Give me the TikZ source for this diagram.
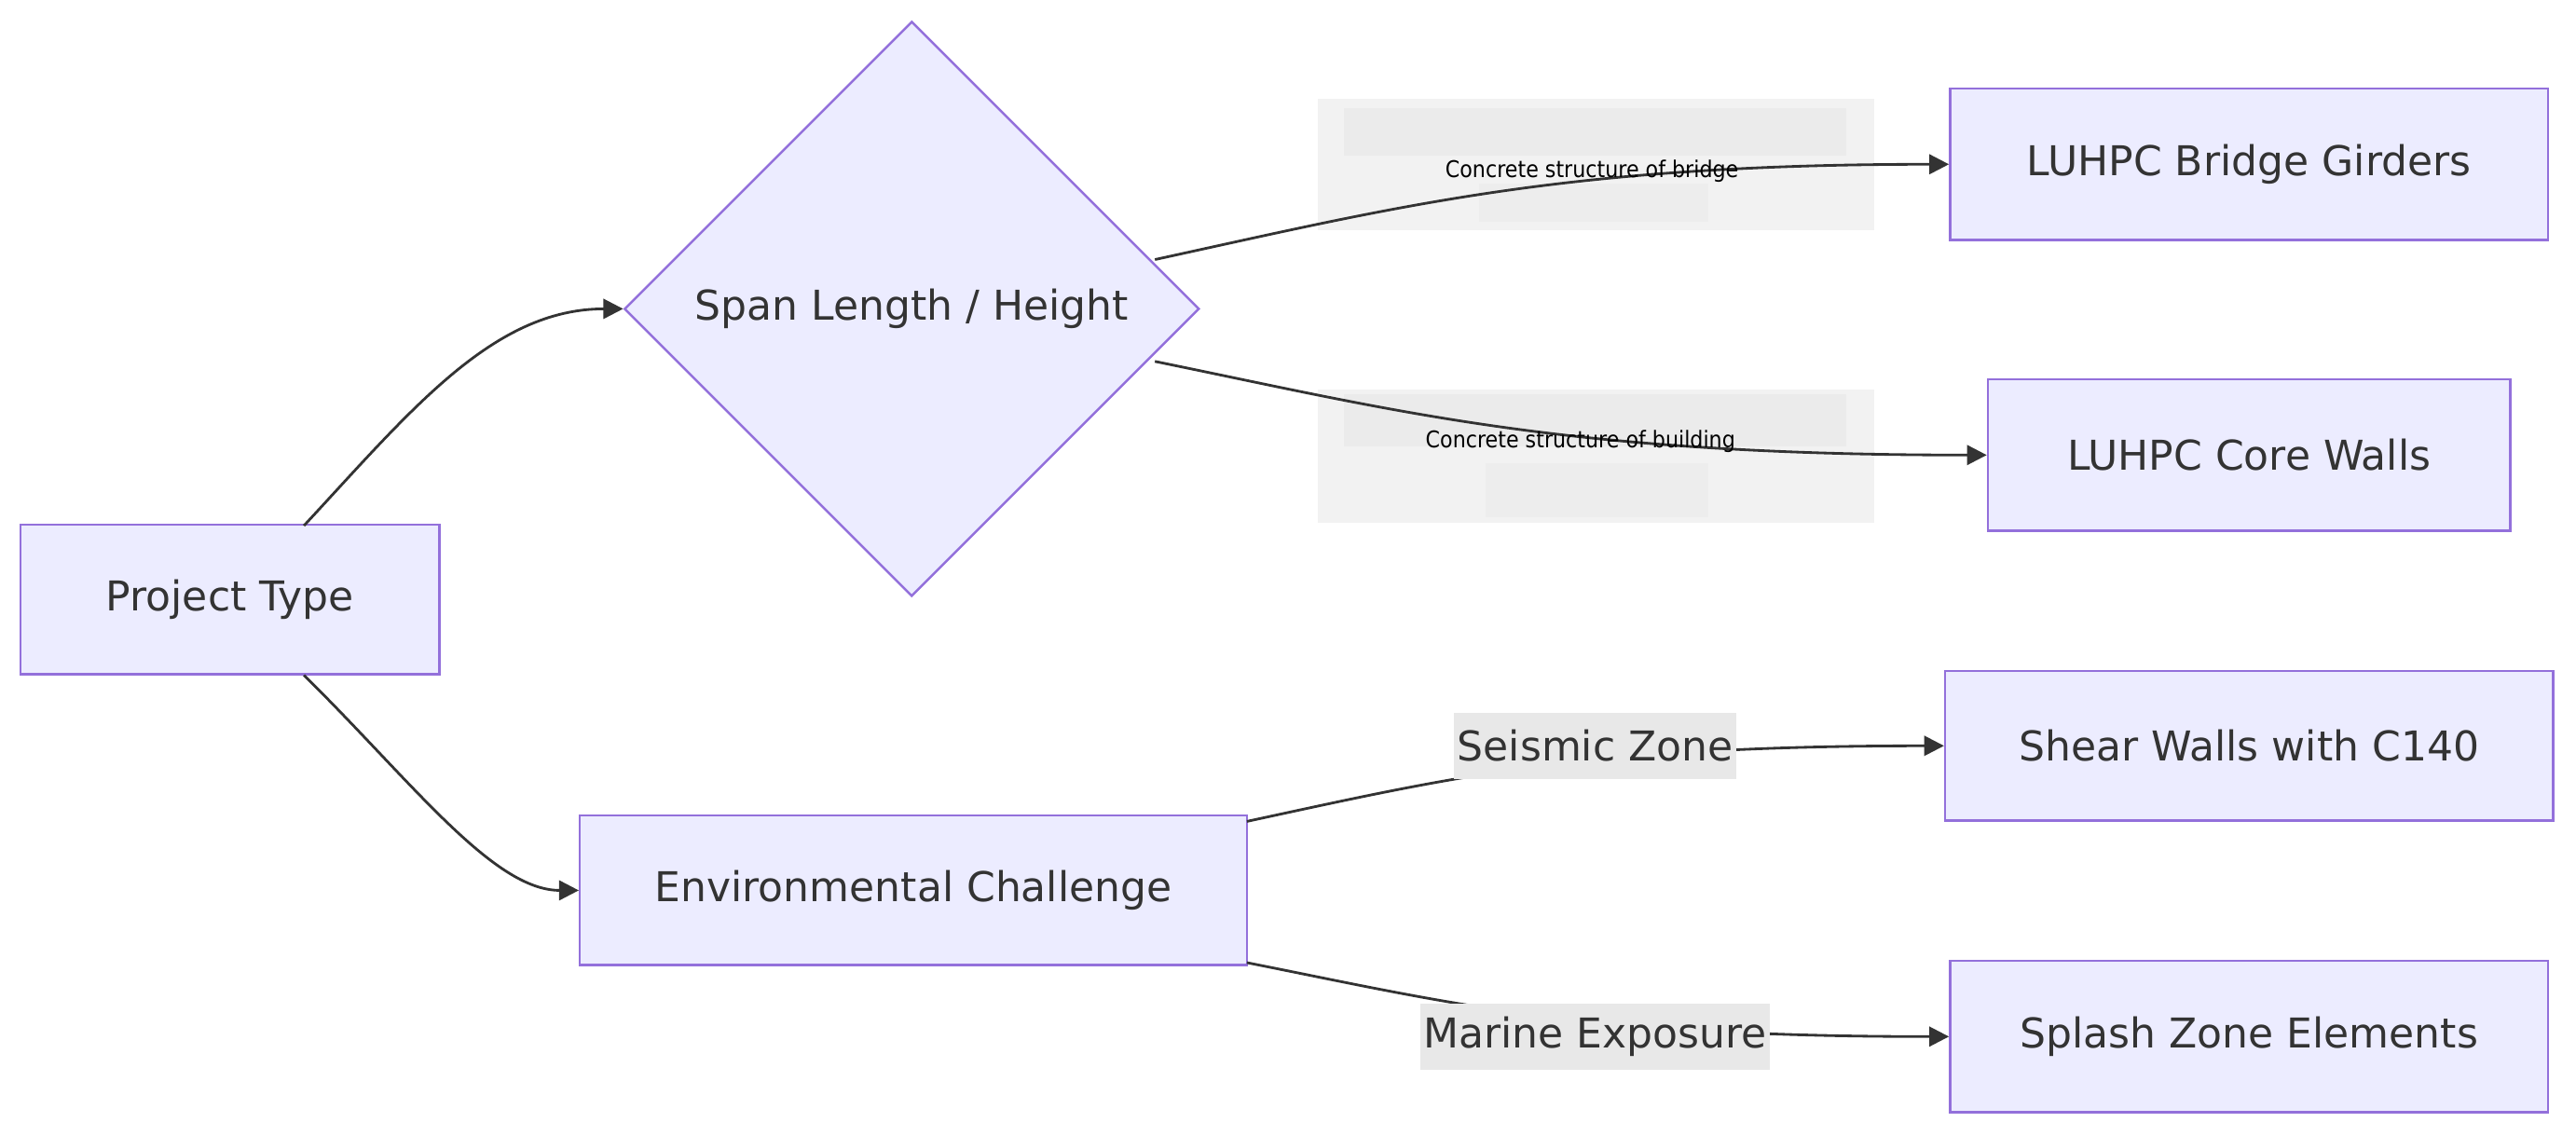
\documentclass[tikz,border=0pt]{standalone}
\usepackage{fontspec}
\setmainfont{DejaVu Sans}
\newfontfamily\condfont{DejaVu Sans Condensed}
\usetikzlibrary{shapes.geometric,arrows.meta}
\definecolor{nfill}{HTML}{ECECFF}
\definecolor{nstroke}{HTML}{9370DB}
\definecolor{edge}{HTML}{333333}
\tikzset{
 box/.style={draw=nstroke,fill=nfill,line width=0.7pt,inner sep=0,font=\fontsize{12.5}{15}\selectfont,text=edge},
 lbl/.style={fill=black!9,inner sep=1pt,font=\fontsize{12.5}{15}\selectfont,text=edge},
 slbl/.style={inner sep=0,font=\condfont\fontsize{7}{8}\selectfont,text=black},
 conn/.style={draw=edge,line width=0.8pt,-{Triangle[length=6pt,width=6pt]}},
}
\begin{document}
\begin{tikzpicture}[x=0.5pt,y=-0.5pt]
\useasboundingbox (0,0) rectangle (1568,691);
\fill[white] (0,0) rectangle (1568,691);
\node[box,minimum width=127.5pt,minimum height=45.5pt] (pt) at (140,365) {Project Type};
\node[box,diamond,aspect=1,minimum width=175pt,minimum height=175pt] (sp) at (555,188) {Span Length / Height};
\node[box,minimum width=203pt,minimum height=45.5pt] (env) at (556,542) {Environmental Challenge};
\node[box,minimum width=182pt,minimum height=46pt] (bg) at (1369,100) {LUHPC Bridge Girders};
\node[box,minimum width=159pt,minimum height=46pt] (cw) at (1369,277) {LUHPC Core Walls};
\node[box,minimum width=185pt,minimum height=45.5pt] (sw) at (1369,454) {Shear Walls with C140};
\node[box,minimum width=182pt,minimum height=46pt] (sz) at (1369,631) {Splash Zone Elements};
% label backgrounds
\fill[black!5] (802,60) rectangle (1141,140);
\fill[black!8] (818,66) rectangle (1124,95);
\fill[black!7] (900,112) rectangle (1040,135);
\fill[black!5] (802,237) rectangle (1141,318);
\fill[black!8] (818,240) rectangle (1124,272);
\fill[black!7] (904,282) rectangle (1040,315);
\coordinate (p1) at (185,320);
\coordinate (p2) at (185,411);
\coordinate (d1) at (703,158);
\coordinate (d2) at (703,220);
\coordinate (e1) at (759,500);
\coordinate (e2) at (759,586);
\draw[conn] (p1) .. controls (250,250) and (300,188) .. (sp.west);
\draw[conn] (p2) .. controls (250,475) and (300,542) .. (env.west);
\draw[conn] (d1) .. controls (850,126) and (950,100) .. (bg.west);
\draw[conn] (d2) .. controls (850,250) and (950,277) .. (cw.west);
\draw[conn] (e1) .. controls (880,474) and (960,454) .. (sw.west);
\draw[conn] (e2) .. controls (880,610) and (960,631) .. (sz.west);
\node[slbl] (l1) at (969,104) {Concrete structure of bridge};
\node[slbl] (l2) at (962,269) {Concrete structure of building};
\node[lbl,minimum width=79pt,minimum height=20pt] (l3) at (971,454) {Seismic Zone};
\node[lbl,minimum width=99pt,minimum height=20pt] (l4) at (971,631) {Marine Exposure};
\end{tikzpicture}
\end{document}
